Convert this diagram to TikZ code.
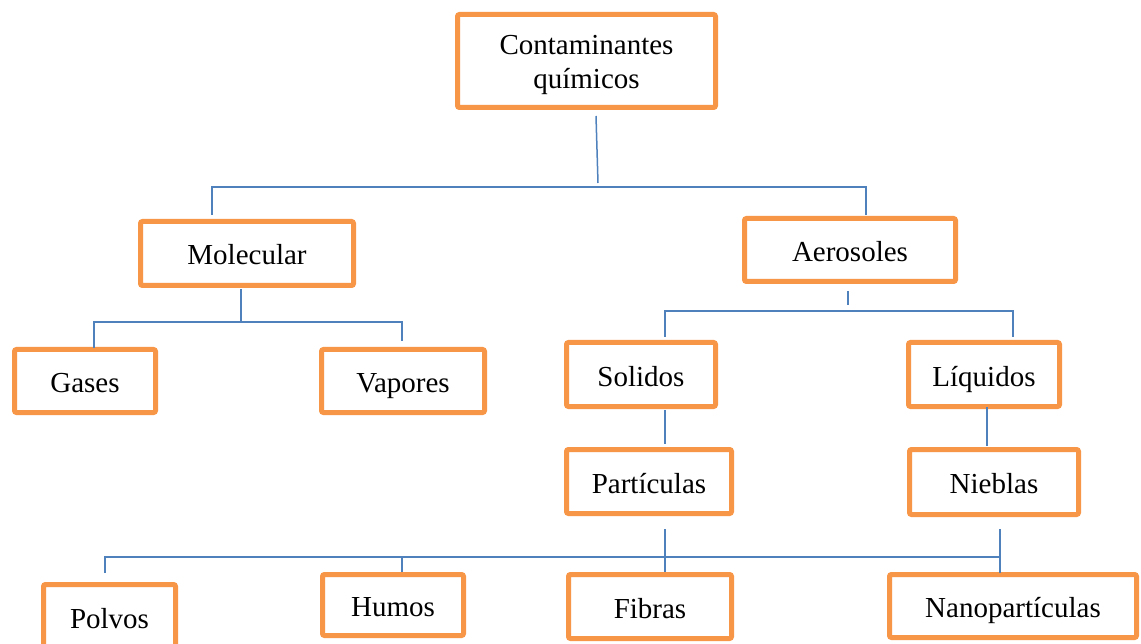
\documentclass[tikz,border=0pt]{standalone}
\usepackage{fontspec}
\setmainfont{Liberation Serif}
\definecolor{boxorange}{HTML}{F79646}
\definecolor{lineblue}{HTML}{4F81BD}
\begin{document}
\begin{tikzpicture}[x=1pt,y=-1pt,
  catbox/.style={draw=boxorange, line width=5pt, rounded corners=2pt, fill=white,
    inner sep=0pt, align=center, font=\fontsize{29}{34}\selectfont,
    text height=27pt, text depth=4pt},
  link/.style={draw=lineblue, line width=1.5pt}]
\useasboundingbox (0,0) rectangle (1141,644);
% boxes
\node[catbox, minimum width=258pt, minimum height=93pt, text height=60pt, text depth=5pt] (top) at (586.5,61) {Contaminantes\\químicos};
\node[catbox, minimum width=213pt, minimum height=64pt] (mol) at (247,253.5) {Molecular};
\node[catbox, minimum width=211pt, minimum height=63pt] (aer) at (850,250) {Aerosoles};
\node[catbox, minimum width=141pt, minimum height=63pt] (gas) at (85,381) {Gases};
\node[catbox, minimum width=163pt, minimum height=63pt] (vap) at (403,381) {Vapores};
\node[catbox, minimum width=149pt, minimum height=64pt] (sol) at (641,374.5) {Solidos};
\node[catbox, minimum width=151pt, minimum height=64pt] (liq) at (984,374.5) {Líquidos};
\node[catbox, minimum width=165pt, minimum height=64pt] (par) at (649,481.5) {Partículas};
\node[catbox, minimum width=169pt, minimum height=65pt] (nie) at (994,482) {Nieblas};
\node[catbox, minimum width=132pt, minimum height=64pt] (pol) at (109.5,616.5) {Polvos};
\node[catbox, minimum width=141pt, minimum height=61pt] (hum) at (393,605) {Humos};
\node[catbox, minimum width=163pt, minimum height=64pt] (fib) at (650,606.5) {Fibras};
\node[catbox, minimum width=247pt, minimum height=63pt] (nan) at (1013,606) {Nanopartículas};
% junction coordinates
\coordinate (t0) at (596,116);
\coordinate (t1) at (598,183);
\coordinate (tl) at (212,187);
\coordinate (tr) at (866,187);
\coordinate (tlb) at (212,215);
\coordinate (trb) at (866,215);
\coordinate (m0) at (241,289);
\coordinate (m1) at (241,322);
\coordinate (ml) at (94,322);
\coordinate (mr) at (402,322);
\coordinate (mlb) at (94,348);
\coordinate (mrb) at (402,341);
\coordinate (a0) at (848,291);
\coordinate (a1) at (848,305);
\coordinate (al) at (665,311);
\coordinate (ar) at (1013,311);
\coordinate (alb) at (665,337);
\coordinate (arb) at (1013,337);
\coordinate (s0) at (665,410);
\coordinate (s1) at (665,444);
\coordinate (l0) at (987,407);
\coordinate (l1) at (987,446);
\coordinate (p0) at (665,529);
\coordinate (pf) at (665,572);
\coordinate (n0) at (1000,529);
\coordinate (nn) at (1000,573);
\coordinate (bl) at (105,557);
\coordinate (bh) at (402,557);
\coordinate (br) at (1000,557);
\coordinate (blb) at (105,573);
\coordinate (bhb) at (402,572);
% connectors
\draw[link] (t0) -- (t1);
\draw[link] (tlb) -- (tl) -- (tr) -- (trb);
\draw[link] (m0) -- (m1);
\draw[link] (mlb) -- (ml) -- (mr) -- (mrb);
\draw[link] (a0) -- (a1);
\draw[link] (alb) -- (al) -- (ar) -- (arb);
\draw[link] (s0) -- (s1);
\draw[link] (l0) -- (l1);
\draw[link] (p0) -- (pf);
\draw[link] (n0) -- (nn);
\draw[link] (blb) -- (bl) -- (br);
\draw[link] (bh) -- (bhb);
\end{tikzpicture}
\end{document}
